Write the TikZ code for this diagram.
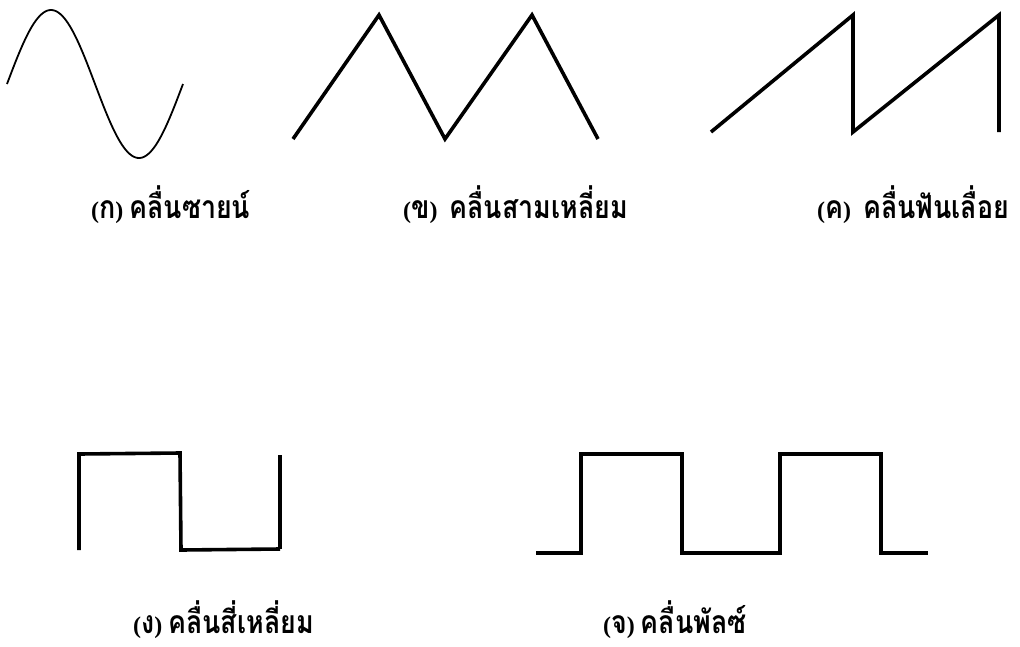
\documentclass[tikz,border=0pt]{standalone}
\usepackage{fontspec}
\setmainfont{Liberation Serif}
\newfontfamily\thaifont[Script=Thai,FakeStretch=0.84,Scale=1.33]{Loma}
\newcommand{\thx}[1]{{\thaifont #1}}
\begin{document}
\begin{tikzpicture}[x=1pt,y=-1pt,
  wave/.style={line width=3.6pt,line join=miter,line cap=butt},
  thin wave/.style={line width=1.8pt},
  lbl/.style={anchor=base west,inner sep=0pt,font=\bfseries\fontsize{24}{28}\selectfont}]
\useasboundingbox (0,0) rectangle (1020,646);
% (a) sine
\draw[thin wave] plot[domain=7:183,samples=120,smooth] (\x,{84-74*sin(2.04545*(\x-7))});
% (b) triangle
\draw[wave] (293,139) -- (379,15) -- (445,139) -- (532,15) -- (598,139);
% (c) sawtooth
\draw[wave] (711,132) -- (853,15) -- (853,132) -- (999,15) -- (999,132);
% (d) square
\draw[wave] (79,550) -- (79,454) -- (180,453) -- (181,550) -- (280,549);
\draw[wave] (280,549) -- (280,455);
% (e) pulse
\draw[wave] (536,553) -- (581,553) -- (581,454) -- (682,454) -- (682,553) -- (780,553) -- (780,454) -- (881,454) -- (881,553) -- (928,553);
% labels
\node[lbl] (la) at (91,218) {(\thx{ก}) \thx{คลื่นซายน์}};
\node[lbl] (lb) at (403,218) {(\thx{ข})~~\thx{คลื่นสามเหลี่ยม}};
\node[lbl] (lc) at (817,218) {(\thx{ค})~~\thx{คลื่นฟันเลื่อย}};
\node[lbl] (ld) at (133,633) {(\thx{ง}) \thx{คลื่นสี่เหลี่ยม}};
\node[lbl] (le) at (603,633) {(\thx{จ}) \thx{คลื่นพัลซ์}};
\end{tikzpicture}
\end{document}
